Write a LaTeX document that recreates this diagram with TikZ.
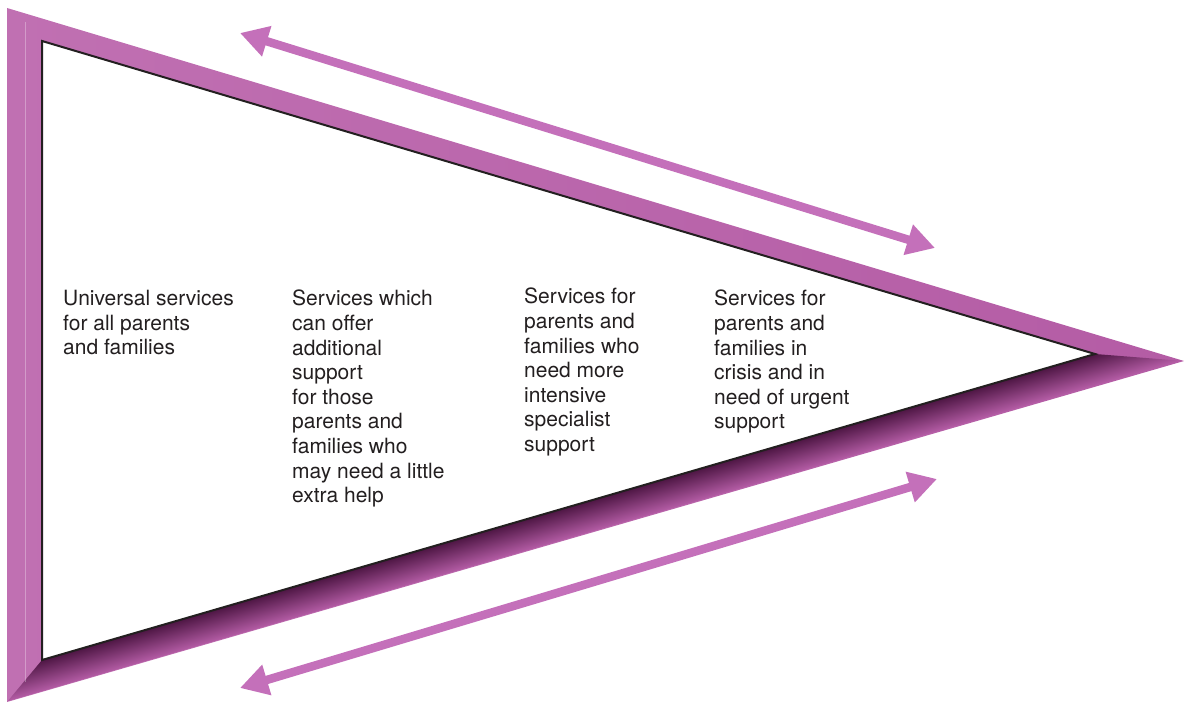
\documentclass[tikz,border=0pt]{standalone}
\usepackage{fontspec}
\setmainfont{TeX Gyre Heros}
\usetikzlibrary{arrows.meta}
\definecolor{bandpurple}{RGB}{180,92,165}
\definecolor{bandlight}{RGB}{192,112,178}
\definecolor{shadowpurple}{RGB}{78,22,68}
\definecolor{arrowpurple}{RGB}{196,112,186}
\definecolor{textgray}{RGB}{35,31,32}
\begin{document}
\begin{tikzpicture}[x=1pt, y=1pt,
		band/.style={left color=bandlight, right color=bandpurple},
		inner/.style={fill=white, draw=textgray, line width=2pt, line join=miter},
		dblarrow/.style={arrowpurple, line width=8.5pt,
			{Triangle[width=30pt,length=28pt]}-{Triangle[width=30pt,length=28pt]}},
		label/.style={anchor=north west, inner sep=0pt, align=left, text=textgray,
			font=\fontsize{21}{24.6}\selectfont}
	]
	\useasboundingbox (0,0) rectangle (1184,702);
	\coordinate (out-t) at (7,694);
	\coordinate (out-r) at (1184,341);
	\coordinate (out-b) at (7,0);
	\coordinate (in-t) at (42,661);
	\coordinate (in-r) at (1095,348);
	\coordinate (in-b) at (42,42);

	\shade[band] (out-t) -- (out-r) -- (out-b) -- cycle;
	\begin{scope}
		\clip (in-b) -- (in-r) -- (out-r) -- (out-b) -- cycle;
		\begin{scope}[transform canvas={shift={(in-b)}, rotate=16.2}]
			\shade[top color=shadowpurple, bottom color=bandpurple]
				(-60,0) rectangle (1200,-30);
		\end{scope}
	\end{scope}
	\draw[white, opacity=0.3, line width=1pt] (25,20) -- (25,680);
	\filldraw[inner] (in-t) -- (in-r) -- (in-b) -- cycle;

	\coordinate (top-l) at (240,669);
	\coordinate (top-r) at (935,454);
	\coordinate (bot-l) at (240,14);
	\coordinate (bot-r) at (937,223);
	\draw[dblarrow] (top-l) -- (top-r);
	\draw[dblarrow] (bot-l) -- (bot-r);

	\node[label] (universal) at (63,412) {Universal services\\for all parents\\and families};
	\node[label] (additional) at (292,412) {Services which\\can offer\\additional\\support\\for those\\parents and\\families who\\may need a little\\extra help};
	\node[label] (intensive) at (524,414) {Services for\\parents and\\families who\\need more\\intensive\\specialist\\support};
	\node[label] (crisis) at (714,412) {Services for\\parents and\\families in\\crisis and in\\need of urgent\\support};
\end{tikzpicture}
\end{document}
